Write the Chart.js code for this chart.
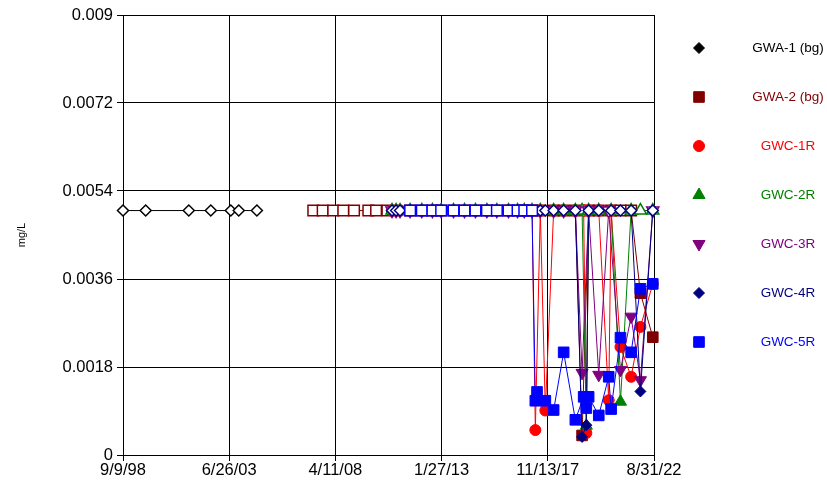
<!DOCTYPE html>
<html>
<head>
<meta charset="utf-8">
<script src="https://cdn.jsdelivr.net/npm/chart.js@4.4.1/dist/chart.umd.min.js"></script>
<style>
  html, body { margin: 0; padding: 0; background: #fff; }
  #wrap { width: 827px; height: 488px; }
</style>
</head>
<body>
<div id="wrap"><canvas id="chart" width="827" height="488"></canvas></div>
<script>
// Axis ticks
const xTickLabels = ['9/9/98', '6/26/03', '4/11/08', '1/27/13', '11/13/17', '8/31/22'];
const yTicks = [0, 0.0018, 0.0036, 0.0054, 0.0072, 0.009];
const reportingLimit = 0.005;   // non-detects plotted at the RL with hollow markers

// GWA-1 (bg)
const gwa1Dates = ['1998-09-09', '1999-09-18', '2001-08-29', '2002-08-27', '2003-07-23', '2003-12-01', '2004-09-25'];
const gwa1Values = [0.005, 0.005, 0.005, 0.005, 0.005, 0.005, 0.005];

// GWA-2 (bg)
const gwa2Dates = ['2007-04-13', '2007-09-15', '2008-03-07', '2008-08-20', '2009-02-13', '2009-10-07', '2010-02-12', '2010-08-17',
  '2011-08-27', '2012-03-07', '2012-08-29', '2013-01-20', '2013-08-12', '2014-02-09', '2014-08-09', '2015-02-14', '2015-07-28',
  '2016-02-05', '2016-07-03', '2016-10-22', '2017-02-27',
  '2017-07-13', '2018-02-18', '2018-08-02', '2019-02-11', '2019-06-02', '2019-09-18', '2020-03-03', '2020-09-23',
  '2021-02-24', '2021-08-19', '2022-01-19', '2022-08-11'];
const gwa2Values = [0.005, 0.005, 0.005, 0.005, 0.005, 0.005, 0.005, 0.005,
  0.005, 0.005, 0.005, 0.005, 0.005, 0.005, 0.005, 0.005, 0.005,
  0.005, 0.005, 0.005, 0.005,
  0.005, 0.005, 0.005, 0.005, 0.0004, 0.005, 0.005, 0.005,
  0.005, 0.005, 0.00331, 0.00241];

// GWC-1R
const gwc1Dates = ['2010-11-02', '2011-01-08', '2011-03-14',
  '2011-08-27', '2012-03-07', '2012-08-29', '2013-01-20', '2013-08-12', '2014-02-09', '2014-08-09', '2015-02-14', '2015-07-28',
  '2016-02-05', '2016-07-03', '2016-10-22', '2017-02-27',
  '2017-04-22', '2017-07-13', '2017-10-04', '2018-02-18', '2018-08-02', '2019-02-11', '2019-06-28', '2019-08-11',
  '2019-09-18', '2020-03-03', '2020-08-14', '2020-09-23', '2021-02-24', '2021-08-19', '2022-01-19', '2022-08-11'];
const gwc1Values = [0.005, 0.005, 0.005,
  0.005, 0.005, 0.005, 0.005, 0.005, 0.005, 0.005, 0.005, 0.005,
  0.005, 0.005, 0.005, 0.005,
  0.00051, 0.005, 0.00091, 0.005, 0.005, 0.005, 0.005, 0.00045,
  0.005, 0.005, 0.00112, 0.005, 0.00221, 0.0016, 0.00262, 0.0035];

// GWC-2R
const gwc2Dates = ['2010-11-02', '2011-01-08', '2011-03-14',
  '2011-08-27', '2012-03-07', '2012-08-29', '2013-01-20', '2013-08-12', '2014-02-09', '2014-08-09', '2015-02-14', '2015-07-28',
  '2016-02-05', '2016-07-03', '2016-10-22', '2017-02-27',
  '2017-07-13', '2018-02-18', '2018-08-02', '2019-02-11', '2019-06-02', '2019-08-11', '2019-09-18', '2020-03-03',
  '2020-09-23', '2021-02-24', '2021-08-19', '2022-01-19', '2022-08-11'];
const gwc2Values = [0.005, 0.005, 0.005,
  0.005, 0.005, 0.005, 0.005, 0.005, 0.005, 0.005, 0.005, 0.005,
  0.005, 0.005, 0.005, 0.005,
  0.005, 0.005, 0.005, 0.005, 0.005, 0.0006, 0.005, 0.005,
  0.005, 0.00109, 0.005, 0.005, 0.005];

// GWC-3R
const gwc3Dates = ['2010-11-02', '2011-01-08', '2011-03-14',
  '2011-08-27', '2012-03-07', '2012-08-29', '2013-01-20', '2013-08-12', '2014-02-09', '2014-08-09', '2015-02-14', '2015-07-28',
  '2016-02-05', '2016-07-03', '2016-10-22', '2017-02-27',
  '2017-07-13', '2018-02-18', '2018-08-02', '2019-02-11', '2019-06-02', '2019-09-18', '2020-03-03', '2020-08-14',
  '2021-02-24', '2021-08-19', '2022-01-19', '2022-08-11'];
const gwc3Values = [0.005, 0.005, 0.005,
  0.005, 0.005, 0.005, 0.005, 0.005, 0.005, 0.005, 0.005, 0.005,
  0.005, 0.005, 0.005, 0.005,
  0.005, 0.005, 0.005, 0.005, 0.00168, 0.005, 0.00164, 0.005,
  0.00174, 0.00283, 0.00153, 0.005];

// GWC-4R
const gwc4Dates = ['2010-11-02', '2011-01-08', '2011-03-14',
  '2011-08-27', '2012-03-07', '2012-08-29', '2013-01-20', '2013-08-12', '2014-02-09', '2014-08-09', '2015-02-14', '2015-07-28',
  '2016-02-05', '2016-07-03', '2016-10-22', '2017-02-27',
  '2017-07-13', '2017-10-04', '2018-02-18', '2018-08-02', '2019-02-11', '2019-06-02', '2019-08-11', '2019-09-18',
  '2020-03-03', '2020-09-23', '2021-02-24', '2021-08-19', '2022-01-19', '2022-08-11'];
const gwc4Values = [0.005, 0.005, 0.005,
  0.005, 0.005, 0.005, 0.005, 0.005, 0.005, 0.005, 0.005, 0.005,
  0.005, 0.005, 0.005, 0.005,
  0.005, 0.005, 0.005, 0.005, 0.005, 0.00037, 0.00061, 0.005,
  0.005, 0.005, 0.005, 0.005, 0.0013, 0.005];

// GWC-5R
const gwc5Dates = ['2011-08-27', '2012-03-07', '2012-08-29', '2013-01-20', '2013-08-12', '2014-02-09', '2014-08-09', '2015-02-14',
  '2015-07-28', '2016-02-05', '2016-07-03', '2016-10-22', '2017-02-27',
  '2017-04-22', '2017-05-20', '2017-10-04', '2018-02-18', '2018-08-02', '2019-02-11', '2019-06-28', '2019-08-11',
  '2019-09-18', '2020-03-03', '2020-08-14', '2020-09-23', '2021-02-24', '2021-08-19', '2022-01-19', '2022-08-11'];
const gwc5Values = [0.005, 0.005, 0.005, 0.005, 0.005, 0.005, 0.005, 0.005,
  0.005, 0.005, 0.005, 0.005, 0.005,
  0.00111, 0.00129, 0.00111, 0.00092, 0.0021, 0.00072, 0.00119, 0.00096,
  0.00119, 0.00081, 0.0016, 0.00094, 0.0024, 0.0021, 0.0034, 0.0035];

function isoDay(s) {
  const [y, m, d] = s.split('-').map(Number);
  return Date.UTC(y, m - 1, d) / 86400000;
}
function mdyDay(s) {
  const [m, d, yy] = s.split('/').map(Number);
  return Date.UTC(yy < 50 ? 2000 + yy : 1900 + yy, m - 1, d) / 86400000;
}
const xTickValues = xTickLabels.map(mdyDay);

const FONT = '"Liberation Sans", Arial, sans-serif';
Chart.defaults.font.family = FONT;
Chart.defaults.color = '#000';

const wells = [
  { label: 'GWA-1 (bg)', dates: gwa1Dates, values: gwa1Values, color: '#000000', style: 'rectRot', r: 5.5 },
  { label: 'GWA-2 (bg)', dates: gwa2Dates, values: gwa2Values, color: '#800000', style: 'rect', r: 7.5 },
  { label: 'GWC-1R', dates: gwc1Dates, values: gwc1Values, color: '#ff0000', style: 'circle', r: 5.5 },
  { label: 'GWC-2R', dates: gwc2Dates, values: gwc2Values, color: '#008000', style: 'triangle', r: 7 },
  { label: 'GWC-3R', dates: gwc3Dates, values: gwc3Values, color: '#800080', style: 'triangle', r: 7, rot: 180 },
  { label: 'GWC-4R', dates: gwc4Dates, values: gwc4Values, color: '#000080', style: 'rectRot', r: 5.5 },
  { label: 'GWC-5R', dates: gwc5Dates, values: gwc5Values, color: '#0000ff', style: 'rect', r: 7.5 }
];

const datasets = wells.map((w, i) => ({
  label: w.label,
  data: w.dates.map((d, k) => ({ x: isoDay(d), y: w.values[k] })),
  borderColor: w.color,
  backgroundColor: w.color,
  borderWidth: 1,
  tension: 0,
  pointStyle: w.style,
  pointRotation: w.rot || 0,
  pointRadius: w.r,
  pointBorderColor: w.color,
  pointBackgroundColor: w.values.map(v => v >= reportingLimit ? '#ffffff' : w.color),
  pointBorderWidth: w.values.map(v => v >= reportingLimit ? 1.5 : 1),
  clip: false,
  order: wells.length - i
}));

// legend at the right: marker, then centred coloured label
const sideLegend = {
  id: 'sideLegend',
  afterDraw(chart) {
    const ctx = chart.ctx;
    chart.data.datasets.forEach((ds, i) => {
      const y = 48 + i * 49;
      ctx.save();
      ctx.fillStyle = ds.borderColor;
      ctx.strokeStyle = ds.borderColor;
      ctx.lineWidth = 1;
      Chart.helpers.drawPoint(ctx, { pointStyle: ds.pointStyle, radius: ds.pointRadius, rotation: ds.pointRotation, borderWidth: 1 }, 699, y);
      ctx.font = '13.5px ' + FONT;
      ctx.textAlign = 'center';
      ctx.textBaseline = 'middle';
      ctx.fillText(ds.label, 788, y);
      ctx.restore();
    });
  }
};

new Chart(document.getElementById('chart'), {
  type: 'line',
  data: { datasets },
  plugins: [sideLegend],
  options: {
    responsive: false,
    animation: false,
    events: [],
    layout: { padding: { left: 0, right: 173, top: 15, bottom: 0 } },
    plugins: { legend: { display: false }, tooltip: { enabled: false } },
    scales: {
      x: {
        type: 'linear',
        min: xTickValues[0],
        max: xTickValues[xTickValues.length - 1],
        afterBuildTicks: s => { s.ticks = xTickValues.map(v => ({ value: v })); },
        afterFit: s => { s.height = 33; },
        ticks: {
          callback: (v, i) => xTickLabels[i],
          font: { size: 16.5 },
          color: '#000',
          padding: 0,
          maxRotation: 0,
          autoSkip: false
        },
        grid: { color: '#000', lineWidth: 1, tickLength: 6 },
        border: { color: '#000', width: 1 }
      },
      y: {
        min: 0,
        max: 0.009,
        afterBuildTicks: s => { s.ticks = yTicks.map(v => ({ value: v })); },
        afterFit: s => { s.width = 123; },
        ticks: {
          callback: v => String(v),
          font: { size: 16.5 },
          color: '#000',
          padding: 4
        },
        grid: { color: '#000', lineWidth: 1, tickLength: 6 },
        border: { color: '#000', width: 1 },
        title: { display: true, text: 'mg/L', font: { size: 11 }, color: '#000', padding: { top: 15, bottom: 0 } }
      }
    }
  }
});
</script>
</body>
</html>
